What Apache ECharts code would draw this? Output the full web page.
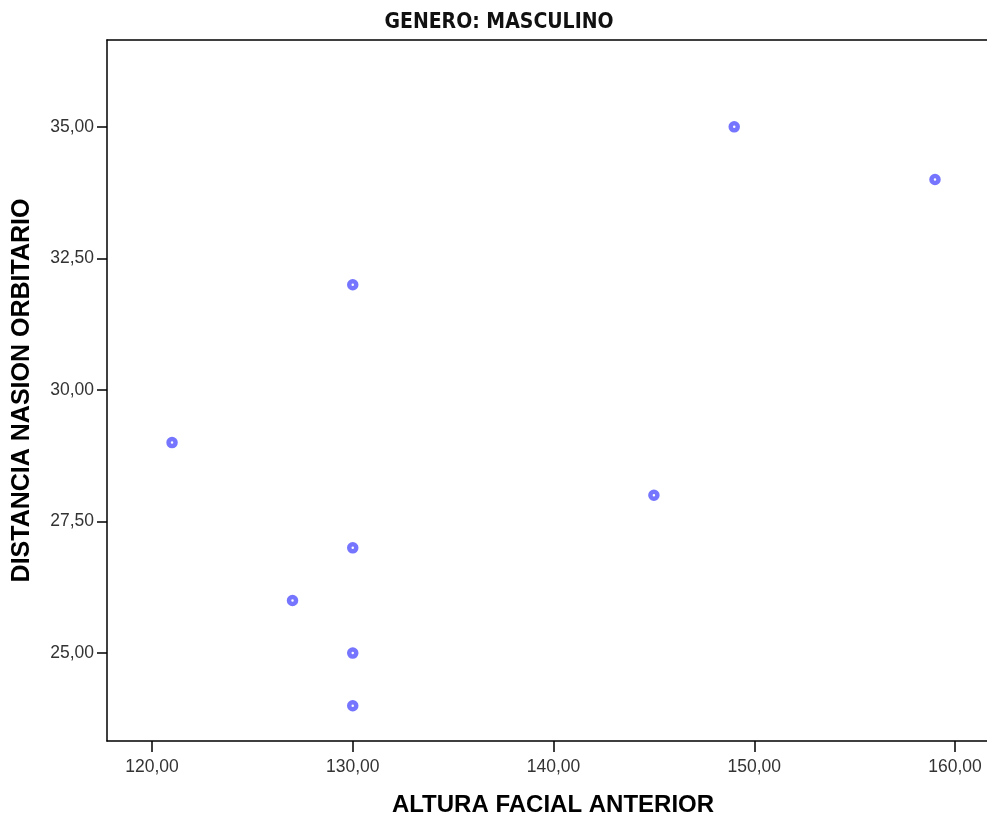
<!DOCTYPE html>
<html><head><meta charset="utf-8">
<script src="https://cdn.jsdelivr.net/npm/echarts@6/dist/echarts.min.js"></script>
<style>html,body{margin:0;padding:0;background:#fff}#c{width:987px;height:819px}</style>
</head><body><div id="c"></div>
<script>
var alturaFacial = [149, 159, 130, 121, 145, 130, 127, 130, 130];
var distanciaNasion = [35, 34, 32, 29, 28, 27, 26, 25, 24];
var xTicks = [120, 130, 140, 150, 160];
var yTicks = [25, 27.5, 30, 32.5, 35];

var points = alturaFacial.map(function (x, i) { return [x, distanciaNasion[i]]; });
function fmt(v) { return v.toFixed(2).replace('.', ','); }

var chart = echarts.init(document.getElementById('c'));
chart.setOption({
  animation: false,
  title: {
    text: 'GENERO: MASCULINO',
    left: 494, top: 7, textAlign: 'center',
    textStyle: { fontFamily: 'Liberation Sans Narrow, DejaVu Sans Condensed, Arial', fontWeight: 'bold', fontSize: 21, color: '#111' }
  },
  grid: { left: 107, top: 40, right: 0, bottom: 78, outerBoundsMode: 'none', containLabel: false },
  xAxis: [{
    type: 'value', min: 117.76, max: 161.59,
    name: 'ALTURA FACIAL ANTERIOR', nameLocation: 'middle', nameGap: 52,
    nameTextStyle: { fontFamily: 'Liberation Sans, Arial', fontWeight: 'bold', fontSize: 24, color: '#000', padding: [0, 0, 0, 12] },
    axisLine: { lineStyle: { color: '#000', width: 1.5 } },
    axisTick: { customValues: xTicks, length: 11, lineStyle: { color: '#000', width: 1.5 } },
    axisLabel: { customValues: xTicks, formatter: fmt, fontFamily: 'Liberation Sans, Arial', fontSize: 17.5, color: '#333', margin: 17 },
    splitLine: { show: false }
  }, {
    type: 'value', position: 'top', min: 117.76, max: 161.59,
    axisLine: { show: true, lineStyle: { color: '#000', width: 1.5 } },
    axisTick: { show: false }, axisLabel: { show: false }, splitLine: { show: false }
  }],
  yAxis: {
    type: 'value', min: 23.33, max: 36.65,
    name: 'DISTANCIA NASION ORBITARIO', nameLocation: 'middle', nameGap: 72, nameRotate: 90,
    nameTextStyle: { fontFamily: 'Liberation Sans, Arial', fontWeight: 'bold', fontSize: 25, color: '#000' },
    axisLine: { show: true, lineStyle: { color: '#000', width: 1.5 } },
    axisTick: { show: true, customValues: yTicks, length: 10, lineStyle: { color: '#000', width: 1.5 } },
    axisLabel: { customValues: yTicks, formatter: fmt, fontFamily: 'Liberation Sans, Arial', fontSize: 17.5, color: '#333', margin: 13 },
    splitLine: { show: false }
  },
  series: [{
    type: 'scatter', data: points, symbol: 'circle', symbolSize: 7,
    itemStyle: { color: '#ffffff', borderColor: '#5252ff', borderWidth: 4.5 }
  }]
});
</script></body></html>
